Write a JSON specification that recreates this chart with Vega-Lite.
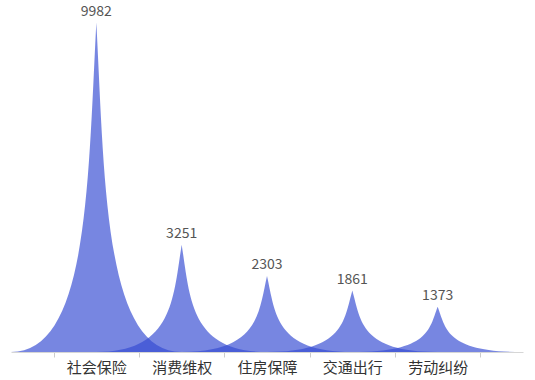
{
  "$schema": "https://vega.github.io/schema/vega-lite/v6.json",
  "width": 512,
  "height": 330,
  "autosize": {"type": "none"},
  "padding": {"left": 11, "top": 22, "right": 12, "bottom": 28},
  "background": "white",
  "config": {"view": {"stroke": null}, "font": "Noto Sans CJK SC"},
  "data": {
    "values": [
      {"category": "社会保险", "value": 9982},
      {"category": "消费维权", "value": 3251},
      {"category": "住房保障", "value": 2303},
      {"category": "交通出行", "value": 1861},
      {"category": "劳动纠纷", "value": 1373}
    ]
  },
  "encoding": {
    "x": {
      "field": "category",
      "type": "nominal",
      "sort": null,
      "scale": {"type": "band", "paddingInner": 0, "paddingOuter": 0.5},
      "axis": {
        "title": null,
        "labelAngle": 0,
        "tickBand": "extent",
        "domainColor": "#d6d6d6",
        "tickColor": "#cccccc",
        "tickSize": 5,
        "labelFontSize": 15,
        "labelColor": "#333333",
        "labelPadding": 3
      }
    },
    "y": {
      "field": "value",
      "type": "quantitative",
      "scale": {"domain": [0, 10000]},
      "axis": null
    }
  },
  "layer": [
    {
      "mark": {"type": "point", "filled": true, "size": 29127, "opacity": 0.67, "color": "#344BD2", "strokeWidth": 0},
      "encoding": {
        "shape": {
          "field": "category",
          "type": "nominal",
          "legend": null,
          "scale": {
            "domain": ["社会保险", "消费维权", "住房保障", "交通出行", "劳动纠纷"],
            "range": [
              "M-1,3.8602L1,3.8602C0.1,3.8602,0.1,1.9301,0,0C-0.1,1.9301,-0.1,3.8602,-1,3.8602Z",
              "M-1,1.2572L1,1.2572C0.1,1.2572,0.1,0.6286,0,0C-0.1,0.6286,-0.1,1.2572,-1,1.2572Z",
              "M-1,0.8906L1,0.8906C0.1,0.8906,0.1,0.4453,0,0C-0.1,0.4453,-0.1,0.8906,-1,0.8906Z",
              "M-1,0.7197L1,0.7197C0.1,0.7197,0.1,0.3599,0,0C-0.1,0.3599,-0.1,0.7197,-1,0.7197Z",
              "M-1,0.5310L1,0.5310C0.1,0.5310,0.1,0.2655,0,0C-0.1,0.2655,-0.1,0.5310,-1,0.5310Z"
            ]
          }
        }
      }
    },
    {
      "mark": {"type": "text", "dy": -7, "baseline": "alphabetic", "fontSize": 14, "color": "#555555"},
      "encoding": {"text": {"field": "value", "type": "quantitative", "format": "d"}}
    }
  ]
}
